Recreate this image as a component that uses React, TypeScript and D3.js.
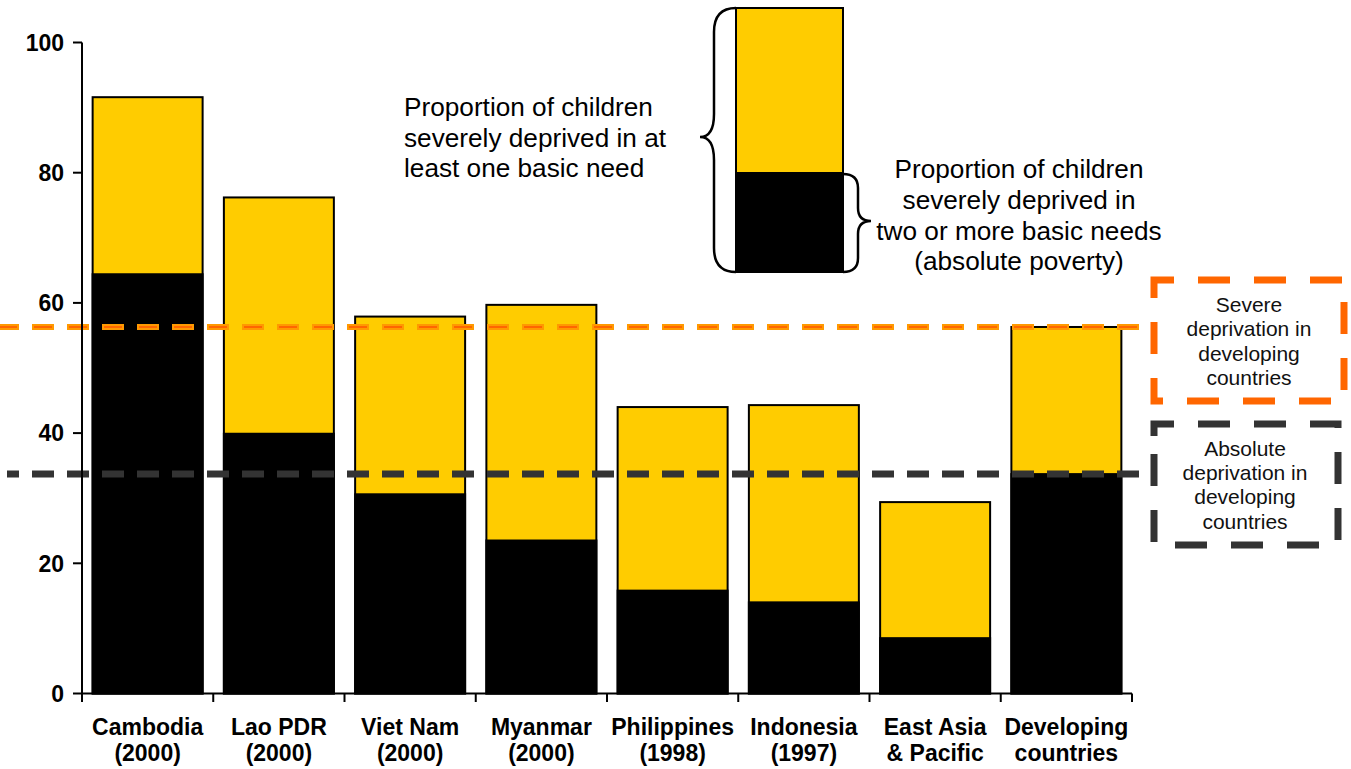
import React from 'react';
import * as d3 from 'd3';

// categories (two label lines each)
const labelTop = ['Cambodia', 'Lao PDR', 'Viet Nam', 'Myanmar', 'Philippines', 'Indonesia', 'East Asia', 'Developing'];
const labelBottom = ['(2000)', '(2000)', '(2000)', '(2000)', '(1998)', '(1997)', '& Pacific', 'countries'];

// % of children severely deprived in at least one basic need
const severeDeprivation = [91.6, 76.2, 57.9, 59.7, 44.0, 44.3, 29.4, 56.3];
// % of children severely deprived in two or more basic needs (absolute poverty)
const absolutePoverty = [64.4, 39.9, 30.6, 23.5, 15.8, 14.0, 8.5, 33.7];

const yTicks = [0, 20, 40, 60, 80, 100];

// developing-country reference values
const severeRef = 56.3;
const absoluteRef = 33.7;

const legendTextLeft = ['Proportion of children', 'severely deprived in at', 'least one basic need'];
const legendTextRight = ['Proportion of children', 'severely deprived in', 'two or more basic needs', '(absolute poverty)'];
const severeBoxText = ['Severe', 'deprivation in', 'developing', 'countries'];
const absoluteBoxText = ['Absolute', 'deprivation in', 'developing', 'countries'];

const W = 1351;
const H = 769;
const FONT = '"Liberation Sans", Arial, Helvetica, sans-serif';
const YELLOW = '#FFCC00';
const ORANGE = '#FF6600';
const GREY = '#333333';

// dashed box drawn as a path starting a bit below the top-left corner
const boxPath = (x: number, y: number, w: number, h: number, lead = 12) =>
  `M${x},${y + lead}V${y}H${x + w}V${y + h}H${x}V${y + lead}`;

const App: React.FC = () => {
  const categories = labelTop.map((d, i) => `${d} ${labelBottom[i]}`);

  const x = d3.scaleBand<string>()
    .domain(categories)
    .range([82, 1132])
    .paddingInner(0.162)
    .paddingOuter(0.081);

  const y = d3.scaleLinear().domain([0, 100]).range([693.5, 42.5]);

  const gap = x.step() * 0.162;
  const boundaries = [...categories.map(c => (x(c) as number) - gap / 2), 1132];
  const bw = x.bandwidth();

  return (
    <svg width={W} height={H} style={{ position: 'absolute', left: 0, top: 0, background: '#fff' }} fontFamily={FONT}>
      {/* bars */}
      {categories.map((c, i) => {
        const x0 = x(c) as number;
        return (
          <g key={c}>
            <rect x={x0} y={y(severeDeprivation[i])} width={bw} height={y(0) - y(severeDeprivation[i])}
              fill={YELLOW} stroke="#000" strokeWidth={2} />
            <rect x={x0} y={y(absolutePoverty[i])} width={bw} height={y(0) - y(absolutePoverty[i])}
              fill="#000" stroke="#000" strokeWidth={2} />
          </g>
        );
      })}

      {/* reference lines */}
      <line x1={0} x2={1150} y1={y(severeRef)} y2={y(severeRef)} stroke="#FF9900" strokeWidth={6}
        strokeDasharray="22 13" strokeDashoffset={3} />
      <line x1={0} x2={1150} y1={y(severeRef)} y2={y(severeRef)} stroke={ORANGE} strokeWidth={2}
        strokeDasharray="18 17" strokeDashoffset={1} />
      <line x1={7} x2={1150} y1={y(absoluteRef)} y2={y(absoluteRef)} stroke={GREY} strokeWidth={7}
        strokeDasharray="22 13" strokeDashoffset={10} />

      {/* y axis */}
      <line x1={82} x2={82} y1={y(100)} y2={702} stroke="#000" strokeWidth={2} />
      {yTicks.map(t => (
        <g key={t}>
          <line x1={73} x2={82} y1={y(t)} y2={y(t)} stroke="#000" strokeWidth={2} />
          <text x={64} y={y(t)} dy="0.36em" textAnchor="end" fontSize={23} fontWeight="bold">{t}</text>
        </g>
      ))}

      {/* x axis */}
      <line x1={82} x2={1132} y1={y(0)} y2={y(0)} stroke="#000" strokeWidth={2} />
      {boundaries.map((b, i) => (
        <line key={i} x1={b} x2={b} y1={y(0)} y2={702} stroke="#000" strokeWidth={2} />
      ))}
      {categories.map((c, i) => {
        const cx = (x(c) as number) + bw / 2;
        return (
          <text key={c} x={cx} textAnchor="middle" fontSize={23} fontWeight="bold">
            <tspan x={cx} y={735}>{labelTop[i]}</tspan>
            <tspan x={cx} y={761}>{labelBottom[i]}</tspan>
          </text>
        );
      })}

      {/* legend sample bar */}
      <rect x={736} y={8} width={107} height={165} fill={YELLOW} stroke="#000" strokeWidth={2} />
      <rect x={736} y={173} width={107} height={99} fill="#000" stroke="#000" strokeWidth={2} />
      <path d="M736,8Q714,8 714,32V114Q714,137 700,137Q714,137 714,160V248Q714,272 736,272"
        fill="none" stroke="#000" strokeWidth={2.5} />
      <path d="M843,174Q858,174 858,188V208Q858,221 871,221Q858,221 858,234V258Q858,272 843,272"
        fill="none" stroke="#000" strokeWidth={2.5} />
      <text fontSize={26.2} fill="#000">
        {legendTextLeft.map((t, i) => (
          <tspan key={i} x={404} y={116 + i * 30.5}>{t}</tspan>
        ))}
      </text>
      <text fontSize={26.2} fill="#000" textAnchor="middle">
        {legendTextRight.map((t, i) => (
          <tspan key={i} x={1019} y={178 + i * 30.8}>{t}</tspan>
        ))}
      </text>

      {/* reference boxes */}
      <path d={boxPath(1154, 280, 190, 121)} fill="none" stroke={ORANGE} strokeWidth={7} strokeDasharray="32 24" />
      <text fontSize={21} fill="#111" textAnchor="middle">
        {severeBoxText.map((t, i) => (
          <tspan key={i} x={1249} y={312 + i * 24.3}>{t}</tspan>
        ))}
      </text>
      <path d={boxPath(1154, 424, 184, 121)} fill="none" stroke={GREY} strokeWidth={7} strokeDasharray="32 24" />
      <text fontSize={21} fill="#111" textAnchor="middle">
        {absoluteBoxText.map((t, i) => (
          <tspan key={i} x={1245} y={456 + i * 24.2}>{t}</tspan>
        ))}
      </text>
    </svg>
  );
};

export default App;
